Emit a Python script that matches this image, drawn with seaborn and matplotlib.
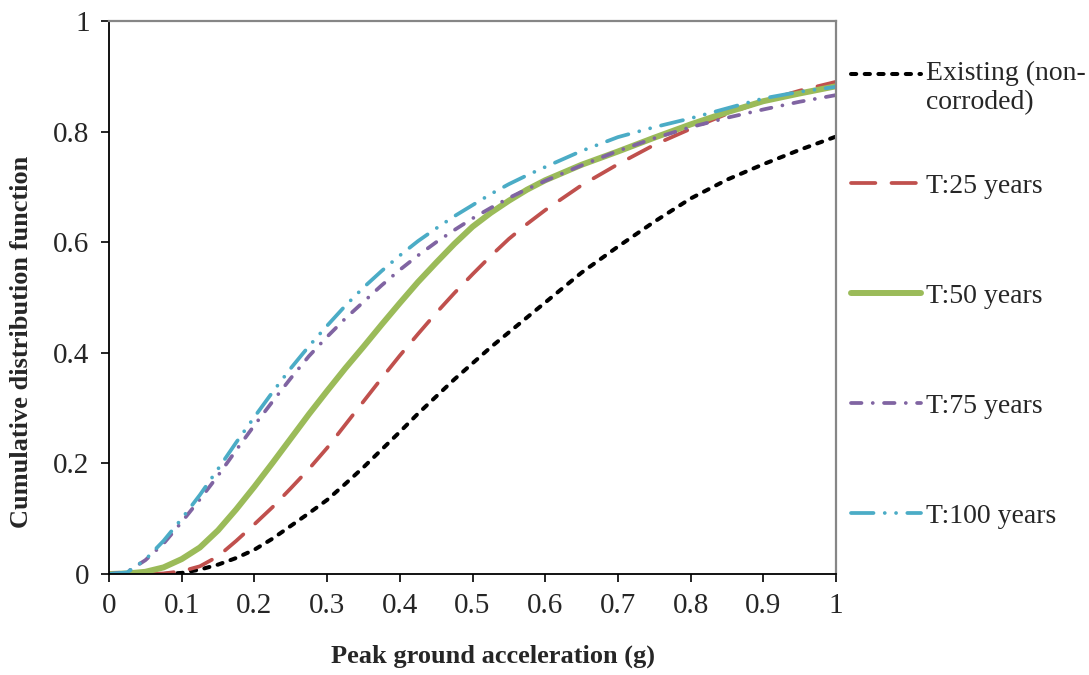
import numpy as np
import pandas as pd
import seaborn as sns
import matplotlib
matplotlib.use("Agg")
import matplotlib.pyplot as plt
from matplotlib.legend_handler import HandlerLine2D
from matplotlib.ticker import MultipleLocator, FormatStrFormatter

# PGA (g) and CDF values
pga = [0.0, 0.025, 0.05, 0.075, 0.1, 0.125, 0.15, 0.175, 0.2, 0.225, 0.25, 0.275,
       0.3, 0.325, 0.35, 0.375, 0.4, 0.425, 0.45, 0.475, 0.5, 0.525, 0.55, 0.575,
       0.6, 0.65, 0.7, 0.75, 0.8, 0.85, 0.9, 0.95, 1.0]

existing = [0.0, 0.0, 0.0, 0.0, 0.002, 0.008, 0.017, 0.029, 0.044, 0.064, 0.087, 0.11,
            0.134, 0.163, 0.193, 0.225, 0.257, 0.29, 0.321, 0.352, 0.381, 0.41, 0.437, 0.464,
            0.491, 0.545, 0.592, 0.637, 0.679, 0.713, 0.741, 0.767, 0.791]
t25 = [0.0, 0.0, 0.0, 0.001, 0.005, 0.014, 0.032, 0.06, 0.09, 0.121, 0.155, 0.19,
       0.228, 0.27, 0.312, 0.354, 0.395, 0.434, 0.472, 0.508, 0.542, 0.575, 0.606, 0.633,
       0.658, 0.703, 0.741, 0.776, 0.805, 0.832, 0.855, 0.874, 0.890]
t50 = [0.0, 0.001, 0.004, 0.012, 0.027, 0.048, 0.079, 0.117, 0.158, 0.201, 0.245, 0.289,
       0.331, 0.372, 0.411, 0.451, 0.49, 0.528, 0.563, 0.597, 0.628, 0.653, 0.675, 0.695,
       0.712, 0.74, 0.764, 0.789, 0.813, 0.835, 0.855, 0.869, 0.882]
t75 = [0.0, 0.004, 0.025, 0.055, 0.094, 0.135, 0.178, 0.224, 0.269, 0.312, 0.354, 0.394,
       0.429, 0.462, 0.492, 0.522, 0.55, 0.576, 0.6, 0.622, 0.643, 0.662, 0.68, 0.696,
       0.711, 0.739, 0.765, 0.788, 0.808, 0.825, 0.84, 0.854, 0.866]
t100 = [0.0, 0.003, 0.026, 0.06, 0.1, 0.143, 0.19, 0.238, 0.284, 0.329, 0.372, 0.412,
        0.449, 0.485, 0.518, 0.548, 0.576, 0.602, 0.625, 0.647, 0.667, 0.687, 0.705, 0.721,
        0.736, 0.765, 0.79, 0.808, 0.824, 0.842, 0.86, 0.872, 0.881]

labels = ["Existing (non-\ncorroded)", "T:25 years", "T:50 years", "T:75 years", "T:100 years"]
series = [existing, t25, t50, t75, t100]

df = pd.concat([pd.DataFrame({"pga": pga, "cdf": s, "case": lab})
                for lab, s in zip(labels, series)], ignore_index=True)

colors = {labels[0]: "#000000", labels[1]: "#C0504D", labels[2]: "#9BBB59",
          labels[3]: "#8064A2", labels[4]: "#4BACC6"}
# dash patterns in linewidth units (round caps eat into the gaps)
dashes = {labels[0]: (1.3, 2.1), labels[1]: (6.5, 4.3), labels[2]: "",
          labels[3]: (2.8, 3, 0.01, 3), labels[4]: (6, 3, 0.01, 3, 0.01, 3)}
widths = {labels[0]: 2.9, labels[1]: 2.7, labels[2]: 4.3,
          labels[3]: 2.7, labels[4]: 2.7}

sns.set_style("white")
plt.rcParams["font.family"] = ["Liberation Serif", "DejaVu Serif"]

fig = plt.figure(figsize=(10.89, 6.75), dpi=100)
ax = fig.add_axes([0.1001, 0.1496, 0.6676, 0.8193])

sns.lineplot(data=df, x="pga", y="cdf", hue="case", style="case", size="case",
             hue_order=labels, style_order=labels, size_order=labels,
             palette=colors, dashes=dashes, sizes=widths, legend=False, ax=ax)
for ln in ax.get_lines():
    ln.set_dash_capstyle("round")
    ln.set_solid_capstyle("round")

ax.set_xlim(0, 1)
ax.set_ylim(0, 1)
ax.xaxis.set_major_locator(MultipleLocator(0.1))
ax.yaxis.set_major_locator(MultipleLocator(0.2))
ax.xaxis.set_major_formatter(FormatStrFormatter("%g"))
ax.yaxis.set_major_formatter(FormatStrFormatter("%g"))
ax.tick_params(axis="both", direction="out", length=6, width=1.2, color="black",
               labelsize=21, pad=8, left=True, bottom=True)

for side in ["left", "bottom"]:
    ax.spines[side].set_color("black")
    ax.spines[side].set_linewidth(1.3)
for side in ["top", "right"]:
    ax.spines[side].set_color("#868686")
    ax.spines[side].set_linewidth(1.6)

ax.set_xlabel("Peak ground acceleration (g)", fontsize=19, fontweight="bold")
ax.set_ylabel("Cumulative distribution function", fontsize=19, fontweight="bold")
ax.xaxis.set_label_coords(0.528, -0.128)
ax.yaxis.set_label_coords(-0.105, 0.42)


class UpperLine(HandlerLine2D):
    # put the sample line level with the first text line of a two-line label
    def create_artists(self, legend, orig_handle, xdescent, ydescent, width, height, fontsize, trans):
        arts = super().create_artists(legend, orig_handle, xdescent, ydescent,
                                      width, height, fontsize, trans)
        for a in arts:
            a.set_ydata(np.asarray(a.get_ydata()) + 0.5 * fontsize)
        return arts


lines = ax.get_lines()[:len(labels)]
leg_kw = dict(frameon=False, fontsize=20, handlelength=2.5, handletextpad=0.2, borderaxespad=0)
leg1 = ax.legend(lines[:1], labels[:1], loc="center left", bbox_to_anchor=(1.006, 0.879),
                 handler_map={lines[0]: UpperLine()}, **leg_kw)
ax.add_artist(leg1)
ax.legend(lines[1:], labels[1:], loc="center left", bbox_to_anchor=(1.006, 0.403),
          labelspacing=3.05, **leg_kw)

fig.savefig("out.png", dpi=100)
